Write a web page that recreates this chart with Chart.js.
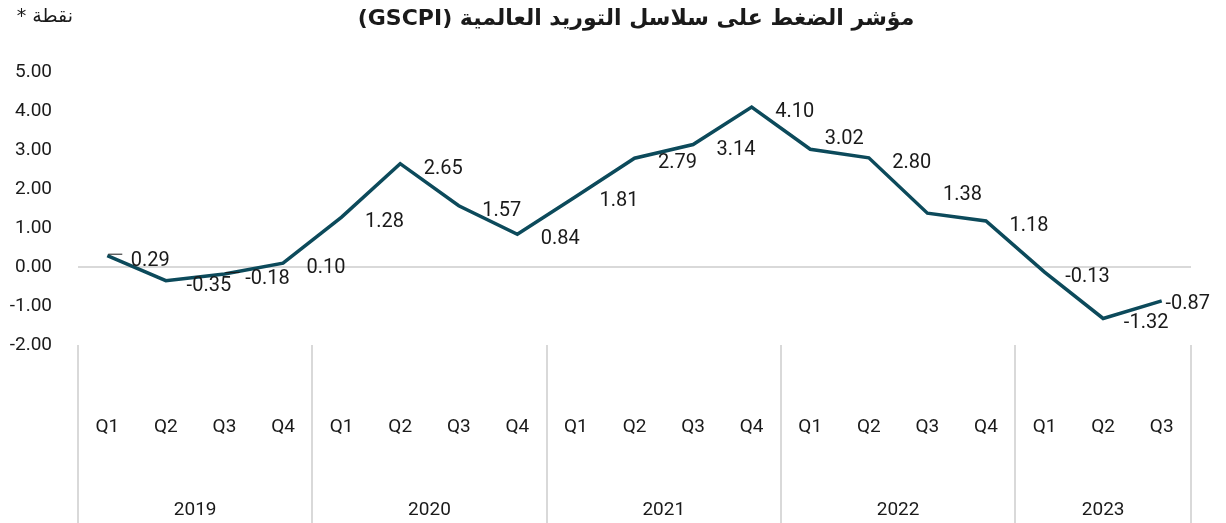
<!DOCTYPE html>
<html>
<head>
<meta charset="utf-8">
<script src="https://cdn.jsdelivr.net/npm/chart.js@4.4.0/dist/chart.umd.min.js"></script>
<style>
  html, body { margin: 0; padding: 0; background: #fff; }
  #wrap { width: 1226px; height: 523px; }
</style>
</head>
<body>
<div id="wrap"><canvas id="myChart" width="1226" height="523"></canvas></div>
<script>
const quarters = ['Q1','Q2','Q3','Q4','Q1','Q2','Q3','Q4','Q1','Q2','Q3','Q4','Q1','Q2','Q3','Q4','Q1','Q2','Q3'];
const years = ['2019','2020','2021','2022','2023'];
const yearStarts = [0, 4, 8, 12, 16];
const gscpi = [0.29, -0.35, -0.18, 0.10, 1.28, 2.65, 1.57, 0.84, 1.81, 2.79, 3.14, 4.10, 3.02, 2.80, 1.38, 1.18, -0.13, -1.32, -0.87];
const yTicks = [5, 4, 3, 2, 1, 0, -1, -2];

const title = 'مؤشر الضغط على سلاسل التوريد العالمية (GSCPI)';
const unitLabel = 'نقطة *';

const lineColor = '#0c4a5b';
const textColor = '#1a1a1a';
const sepColor = '#d9d9d9';
const numFont = 'Roboto, "DejaVu Sans", sans-serif';

// extra per-point nudges for labels that sit elsewhere in the picture
const labelNudge = { 12: [-9, -15], 14: [-8, -23], 18: [-17, -2] };
// labels with a little leader line
const leaders = [0, 2];

const extras = {
  id: 'extras',
  afterDraw(chart) {
    const ctx = chart.ctx;
    const x = chart.scales.x;
    const area = chart.chartArea;
    const step = x.getPixelForValue(1) - x.getPixelForValue(0);
    ctx.save();

    // year separators below the plot
    ctx.strokeStyle = sepColor;
    ctx.lineWidth = 2;
    const bounds = yearStarts.map(i => x.getPixelForValue(i) - step / 2);
    bounds.push(x.getPixelForValue(quarters.length - 1) + step / 2);
    bounds.forEach(px => {
      ctx.beginPath();
      ctx.moveTo(Math.round(px), area.bottom);
      ctx.lineTo(Math.round(px), chart.height);
      ctx.stroke();
    });

    // year labels
    ctx.fillStyle = textColor;
    ctx.font = '19px ' + numFont;
    ctx.textAlign = 'center';
    ctx.textBaseline = 'middle';
    years.forEach((yr, k) => {
      const first = yearStarts[k];
      const last = k + 1 < yearStarts.length ? yearStarts[k + 1] - 1 : quarters.length - 1;
      const cx = (x.getPixelForValue(first) + x.getPixelForValue(last)) / 2;
      ctx.fillText(yr, cx, 510);
    });

    // data labels
    ctx.font = '20px ' + numFont;
    const meta = chart.getDatasetMeta(0);
    meta.data.forEach((pt, i) => {
      const n = labelNudge[i] || [0, 0];
      ctx.fillText(gscpi[i].toFixed(2), pt.x + 43 + n[0], pt.y + 5 + n[1]);
    });

    // leader lines
    ctx.strokeStyle = textColor;
    ctx.lineWidth = 1;
    leaders.forEach(i => {
      const pt = meta.data[i];
      ctx.beginPath();
      ctx.moveTo(pt.x + 1, pt.y - 1.5);
      ctx.lineTo(pt.x + 15, pt.y - 1.5);
      ctx.stroke();
    });

    // title and unit
    ctx.direction = 'rtl';
    ctx.font = 'bold 22px "DejaVu Sans", sans-serif';
    ctx.textAlign = 'center';
    ctx.fillText(title, 636, 19);
    ctx.font = '19px "DejaVu Sans", sans-serif';
    ctx.textAlign = 'right';
    ctx.fillText(unitLabel, 73, 17);
    ctx.restore();
  }
};

new Chart(document.getElementById('myChart'), {
  type: 'line',
  data: {
    labels: quarters,
    datasets: [{
      data: gscpi,
      borderColor: lineColor,
      borderWidth: 3.5,
      pointRadius: 0,
      tension: 0,
      fill: false
    }]
  },
  options: {
    responsive: false,
    animation: false,
    layout: { padding: { top: 72, right: 35, left: 0, bottom: 0 } },
    plugins: { legend: { display: false }, tooltip: { enabled: false } },
    scales: {
      x: {
        offset: true,
        grid: { display: false },
        border: { display: false },
        ticks: {
          color: textColor,
          font: { size: 19, family: numFont },
          padding: 63,
          maxRotation: 0,
          autoSkip: false
        },
        afterFit(scale) {
          scale.height = 178;
          scale.paddingLeft = 0;
          scale.paddingRight = 0;
        }
      },
      y: {
        min: -2,
        max: 5,
        afterBuildTicks(scale) { scale.ticks = yTicks.map(v => ({ value: v })); },
        grid: {
          drawTicks: false,
          color: c => (c.tick && c.tick.value === 0 ? sepColor : 'rgba(0,0,0,0)'),
          lineWidth: 2
        },
        border: { display: false },
        ticks: {
          color: textColor,
          font: { size: 19, family: numFont },
          padding: 26,
          callback: v => v.toFixed(2)
        },
        afterFit(scale) { scale.width = 78; }
      }
    }
  },
  plugins: [extras]
});
</script>
</body>
</html>
